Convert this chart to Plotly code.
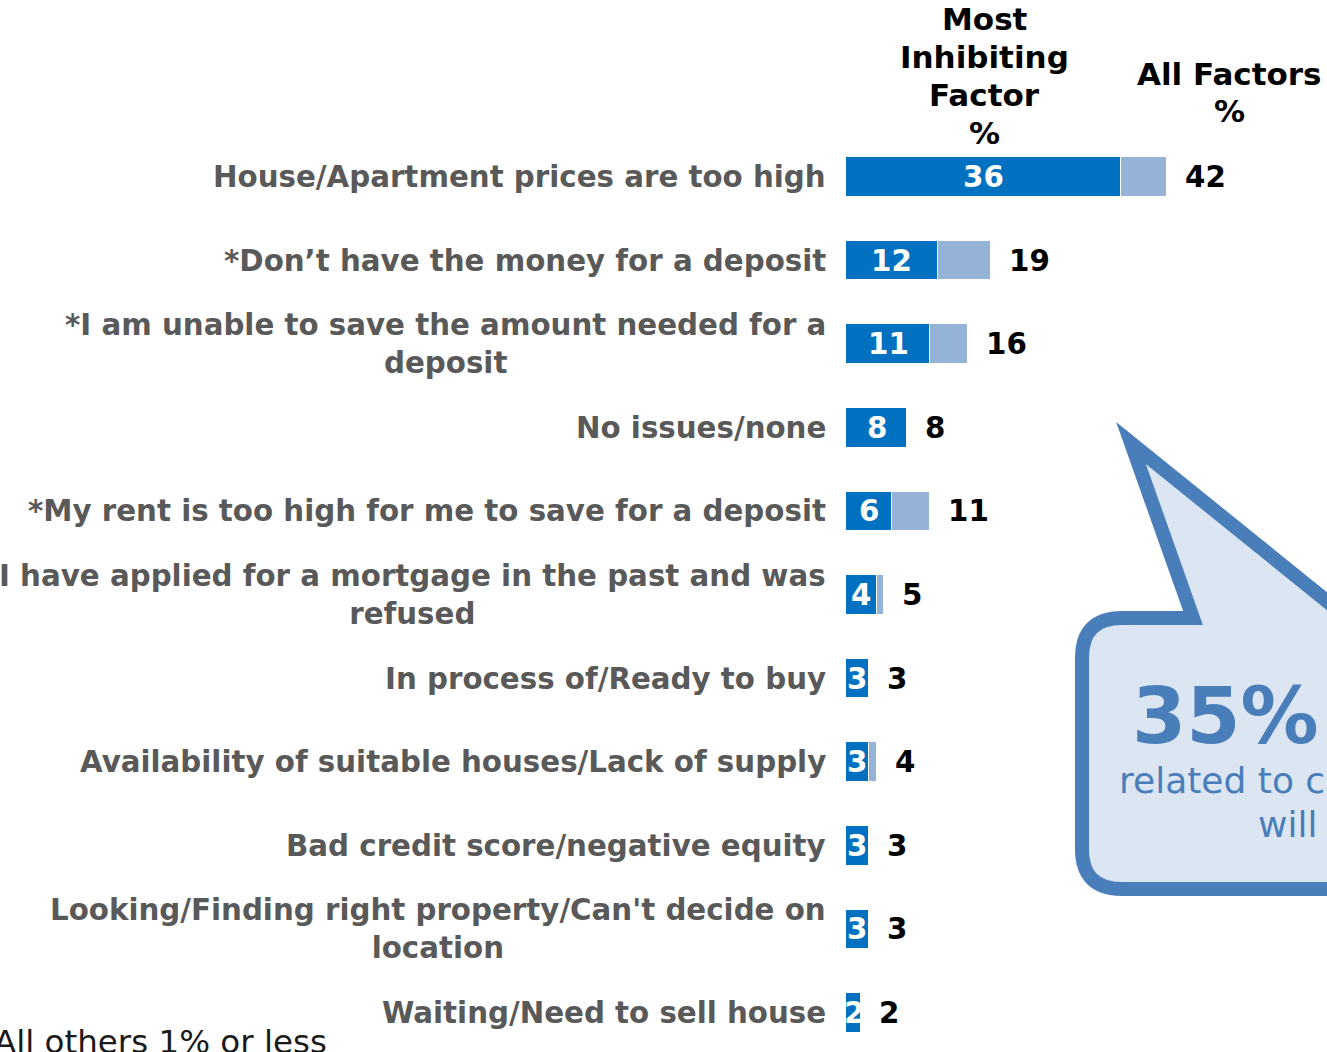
"""Most inhibiting factor vs all factors — horizontal stacked bars with Plotly."""

import plotly.graph_objects as go

categories = [
    "House/Apartment prices are too high",
    "*Don’t have the money for a deposit",
    "*I am unable to save the amount needed for a<br>deposit",
    "No issues/none",
    "*My rent is too high for me to save for a deposit",
    "I have applied for a mortgage in the past and was<br>refused",
    "In process of/Ready to buy",
    "Availability of suitable houses/Lack of supply",
    "Bad credit score/negative equity",
    "Looking/Finding right property/Can't decide on<br>location",
    "Waiting/Need to sell house",
]
most_inhibiting = [36, 12, 11, 8, 6, 4, 3, 3, 3, 3, 2]
all_factors = [42, 19, 16, 8, 11, 5, 3, 4, 3, 3, 2]

header_most = ["Most", "Inhibiting", "Factor", "%"]
header_all = ["All Factors", "%"]
footnote = "All others 1% or less"
callout_big = "35%"
callout_line1 = "related to cost"
callout_line2 = "will"

W, H = 1327, 1052
DARK = "#0070C0"
LIGHT = "#95B3D7"
LABEL_GREY = "#595959"
FONT = "DejaVu Sans"

# pixel geometry of the bars
X0_PX, PX_PER_UNIT = 846, 7.64
ROW0_PX, ROW_PX = 177, 83.6


def px(x, y):
    """pixel -> paper coords"""
    return x / W, 1 - y / H


rows = list(range(len(categories)))
remainder = [a - m for a, m in zip(all_factors, most_inhibiting)]

fig = go.Figure()
fig.add_trace(go.Bar(
    y=rows, x=most_inhibiting, orientation="h", width=0.475,
    marker=dict(color=DARK, line=dict(color="white", width=1.5)),
    hoverinfo="skip", showlegend=False,
))
fig.add_trace(go.Bar(
    y=rows, x=remainder, orientation="h", width=0.475,
    marker=dict(color=LIGHT, line=dict(color="white", width=1.5)),
    hoverinfo="skip", showlegend=False,
))

annotations = []
label_x = (828 - X0_PX) / PX_PER_UNIT
for r, cat, m, a in zip(rows, categories, most_inhibiting, all_factors):
    annotations.append(dict(
        x=label_x, y=r, xref="x", yref="y", text=cat, showarrow=False,
        xanchor="right", yanchor="middle", align="center",
        font=dict(family=FONT, size=29.3, color=LABEL_GREY, weight="bold"),
    ))
    annotations.append(dict(
        x=m / 2, y=r, xref="x", yref="y", text=str(m), showarrow=False,
        xanchor="center", yanchor="middle",
        font=dict(family=FONT, size=29.3, color="white", weight="bold"),
    ))
    annotations.append(dict(
        x=a, y=r, xref="x", yref="y", text=str(a), showarrow=False,
        xanchor="left", yanchor="middle", xshift=16,
        font=dict(family=FONT, size=29.3, color="black", weight="bold"),
    ))

# column headers, one annotation per line
for line, yc in zip(header_most, [19, 57, 95, 133]):
    hx, hy = px(985, yc)
    annotations.append(dict(
        x=hx, y=hy, xref="paper", yref="paper", text=line, showarrow=False,
        xanchor="center", yanchor="middle",
        font=dict(family=FONT, size=31, color="black", weight="bold"),
    ))
for line, yc in zip(header_all, [74, 111]):
    hx, hy = px(1229, yc)
    annotations.append(dict(
        x=hx, y=hy, xref="paper", yref="paper", text=line, showarrow=False,
        xanchor="center", yanchor="middle",
        font=dict(family=FONT, size=31, color="black", weight="bold"),
    ))

fx, fy = px(329, 1042)
annotations.append(dict(
    x=fx, y=fy, xref="paper", yref="paper", text=footnote, showarrow=False,
    xanchor="right", yanchor="middle",
    font=dict(family=FONT, size=32.5, color="#1a1a1a"),
))

# speech-bubble callout
BUBBLE = "#4A7EBB"
cx, cy = px(1130, 716)
annotations.append(dict(
    x=cx, y=cy, xref="paper", yref="paper", text=callout_big, showarrow=False,
    xanchor="left", yanchor="middle",
    font=dict(family=FONT, size=78, color=BUBBLE, weight="bold"),
))
cx, cy = px(1117, 780)
annotations.append(dict(
    x=cx, y=cy, xref="paper", yref="paper", text=callout_line1, showarrow=False,
    xanchor="left", yanchor="middle",
    font=dict(family=FONT, size=36, color=BUBBLE),
))
cx, cy = px(1256, 824)
annotations.append(dict(
    x=cx, y=cy, xref="paper", yref="paper", text=callout_line2, showarrow=False,
    xanchor="left", yanchor="middle",
    font=dict(family=FONT, size=36, color=BUBBLE),
))


def bubble_path(dx=0, dy=0):
    def p(x, y):
        a, b = px(x + dx, y + dy)
        return f"{a:.5f},{b:.5f}"

    parts = [
        f"M {p(1122, 618)}",
        f"L {p(1193, 618)}",
        f"L {p(1131, 443)}",
        f"L {p(1370, 636)}",
        f"L {p(1370, 889)}",
        f"L {p(1122, 889)}",
        f"Q {p(1082, 889)} {p(1082, 849)}",
        f"L {p(1082, 658)}",
        f"Q {p(1082, 618)} {p(1122, 618)}",
    ]
    return " ".join(parts) + " Z"


shapes = [
    dict(type="path", xref="paper", yref="paper", path=bubble_path(4, 7),
         fillcolor="rgba(0,0,0,0.16)", line=dict(width=0), layer="below"),
    dict(type="path", xref="paper", yref="paper", path=bubble_path(),
         fillcolor="#DCE6F2", line=dict(color=BUBBLE, width=14), layer="above"),
]

x_min = -X0_PX / PX_PER_UNIT
x_max = (W - X0_PX) / PX_PER_UNIT
y_top = -ROW0_PX / ROW_PX
y_bot = (H - ROW0_PX) / ROW_PX

fig.update_layout(
    width=W, height=H,
    barmode="stack", bargap=0,
    plot_bgcolor="white", paper_bgcolor="white",
    margin=dict(l=0, r=0, t=0, b=0),
    xaxis=dict(range=[x_min, x_max], domain=[0, 1], visible=False, fixedrange=True),
    yaxis=dict(range=[y_bot, y_top], domain=[0, 1], visible=False, fixedrange=True),
    annotations=annotations,
    shapes=shapes,
    showlegend=False,
)

# drop the default 8px body margin so the figure fills the window exactly
fig.write_html(
    "out.html",
    config={"displayModeBar": False},
    post_script="document.body.style.margin='0';document.body.style.overflow='hidden';",
)
